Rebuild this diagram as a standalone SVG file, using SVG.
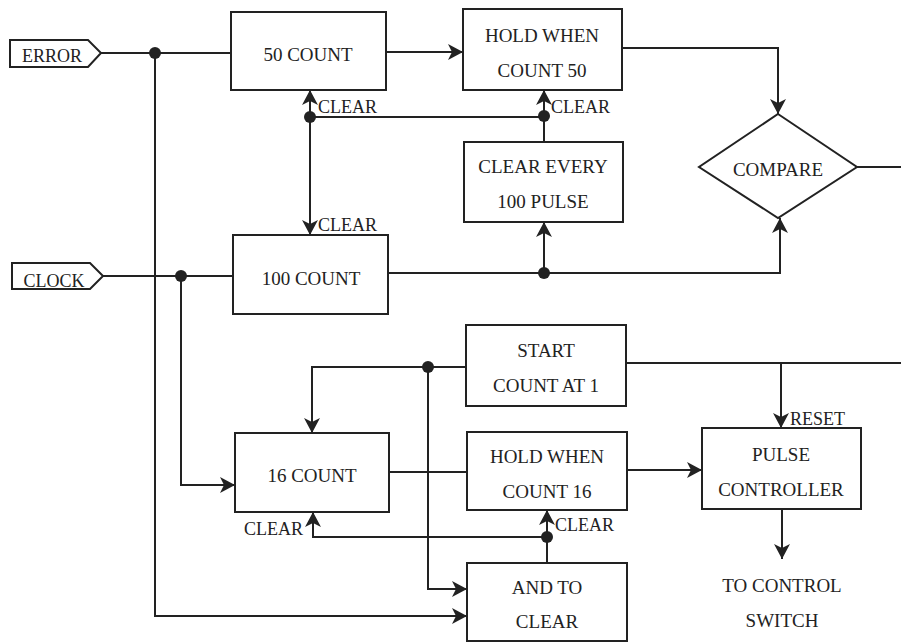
<svg xmlns="http://www.w3.org/2000/svg" width="901" height="643" viewBox="0 0 901 643">
<style>
.box{fill:#fff;stroke:#222;stroke-width:2}
.ln{fill:none;stroke:#222;stroke-width:2}
.t{font-family:"Liberation Serif","Times New Roman",serif;font-size:19px;fill:#222;text-anchor:middle}
.lb{font-family:"Liberation Serif","Times New Roman",serif;font-size:18px;fill:#222}
.dot{fill:#222}
</style>
<defs>
<marker id="ah" viewBox="0 0 15 16" refX="15" refY="8" markerWidth="15" markerHeight="16" markerUnits="userSpaceOnUse" orient="auto">
<path d="M0,0 L15,8 L0,16 L4,8 Z" fill="#222"/>
</marker>
</defs>
<rect width="901" height="643" fill="#fff"/>
<g id="connectors">
<path class="ln" d="M101,53 H232"/>
<path class="ln" d="M386,52 H463" marker-end="url(#ah)"/>
<path class="ln" d="M622,48 H778 V114" marker-end="url(#ah)"/>
<path class="ln" d="M857,167 H901"/>
<path class="ln" d="M310,117 V90" marker-end="url(#ah)"/>
<path class="ln" d="M310,117 V235" marker-end="url(#ah)"/>
<path class="ln" d="M310,117 H544"/>
<path class="ln" d="M544,142 V90" marker-end="url(#ah)"/>
<path class="ln" d="M103,276 H233"/>
<path class="ln" d="M388,273 H780 V218" marker-end="url(#ah)"/>
<path class="ln" d="M544,273 V222" marker-end="url(#ah)"/>
<path class="ln" d="M155,53 V616 H467" marker-end="url(#ah)"/>
<path class="ln" d="M181,276 V485 H235" marker-end="url(#ah)"/>
<path class="ln" d="M467,367 H312 V433" marker-end="url(#ah)"/>
<path class="ln" d="M428,367 V589 H467" marker-end="url(#ah)"/>
<path class="ln" d="M389,472 H467"/>
<path class="ln" d="M627,470 H702" marker-end="url(#ah)"/>
<path class="ln" d="M626,363 H901"/>
<path class="ln" d="M781,363 V428" marker-end="url(#ah)"/>
<path class="ln" d="M782,509 V559" marker-end="url(#ah)"/>
<path class="ln" d="M547,563 V510" marker-end="url(#ah)"/>
<path class="ln" d="M547,537 H313 V512" marker-end="url(#ah)"/>
<circle class="dot" cx="155" cy="53" r="6"/>
<circle class="dot" cx="310" cy="117" r="6"/>
<circle class="dot" cx="544" cy="116" r="6"/>
<circle class="dot" cx="181" cy="276" r="6"/>
<circle class="dot" cx="544" cy="273" r="6"/>
<circle class="dot" cx="428" cy="367" r="6"/>
<circle class="dot" cx="547" cy="537" r="6"/>
<text class="lb" x="318" y="113">CLEAR</text>
<text class="lb" x="318" y="231">CLEAR</text>
<text class="lb" x="551" y="113">CLEAR</text>
<text class="lb" x="790" y="425">RESET</text>
<text class="lb" x="244" y="535">CLEAR</text>
<text class="lb" x="555" y="531">CLEAR</text>
</g>
<g id="error">
<path class="box" d="M10,40 H88 L101,53 L88,67 H10 Z"/>
<text class="lb" x="52" y="62" text-anchor="middle">ERROR</text>
</g>
<g id="clock">
<path class="box" d="M12,263 H90 L103,276 L90,289 H12 Z"/>
<text class="lb" x="54" y="287" text-anchor="middle">CLOCK</text>
</g>
<g id="count50">
<rect class="box" x="231" y="12" width="155" height="78"/>
<text class="t" x="308" y="61">50 COUNT</text>
</g>
<g id="hold50">
<rect class="box" x="463" y="9" width="159" height="81"/>
<text class="t" x="542" y="42">HOLD WHEN</text>
<text class="t" x="542" y="77">COUNT 50</text>
</g>
<g id="clearevery">
<rect class="box" x="464" y="142" width="159" height="80"/>
<text class="t" x="543" y="173">CLEAR EVERY</text>
<text class="t" x="543" y="208">100 PULSE</text>
</g>
<g id="compare">
<path class="box" d="M778,114 L857,167 L778,218 L699,167 Z"/>
<text class="t" x="778" y="176">COMPARE</text>
</g>
<g id="count100">
<rect class="box" x="233" y="235" width="155" height="79"/>
<text class="t" x="311" y="285">100 COUNT</text>
</g>
<g id="start">
<rect class="box" x="466" y="325" width="160" height="81"/>
<text class="t" x="546" y="357">START</text>
<text class="t" x="546" y="392">COUNT AT 1</text>
</g>
<g id="count16">
<rect class="box" x="235" y="433" width="154" height="79"/>
<text class="t" x="312" y="482">16 COUNT</text>
</g>
<g id="hold16">
<rect class="box" x="467" y="432" width="160" height="78"/>
<text class="t" x="547" y="463">HOLD WHEN</text>
<text class="t" x="547" y="498">COUNT 16</text>
</g>
<g id="pulse">
<rect class="box" x="702" y="428" width="159" height="81"/>
<text class="t" x="781" y="461">PULSE</text>
<text class="t" x="781" y="496">CONTROLLER</text>
</g>
<g id="andclear">
<rect class="box" x="467" y="563" width="160" height="78"/>
<text class="t" x="547" y="594">AND TO</text>
<text class="t" x="547" y="628">CLEAR</text>
</g>
<g id="tocontrol">
<text class="t" x="782" y="592">TO CONTROL</text>
<text class="t" x="782" y="627">SWITCH</text>
</g>
</svg>
